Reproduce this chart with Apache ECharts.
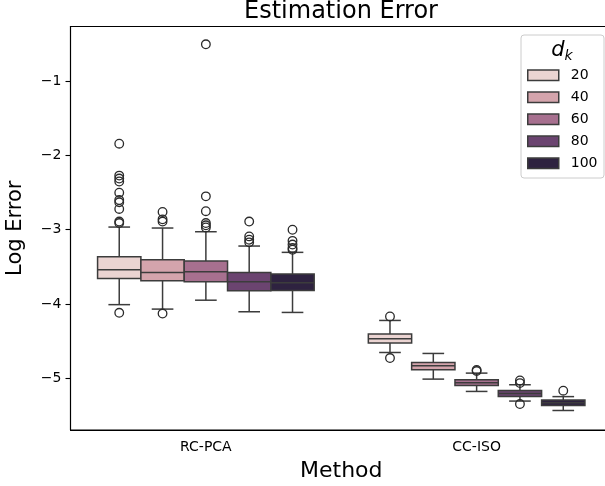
<!DOCTYPE html>
<html>
<head>
<meta charset="utf-8">
<script src="https://cdn.jsdelivr.net/npm/echarts@6/dist/echarts.min.js"></script>
<style>
  html, body { margin: 0; padding: 0; background: #fff; }
  #chart { width: 605px; height: 486px; }
</style>
</head>
<body>
<div id="chart"></div>
<script>
// Methods on the x axis and the d_k levels used as hue
const methods = ['RC-PCA', 'CC-ISO'];
const dkLevels = ['20', '40', '60', '80', '100'];
const dkColors = ['#ebd4d2', '#d4a4ac', '#a7708f', '#6b4470', '#2e2240'];
const yTicks = [-5, -4, -3, -2, -1];

// Box statistics per d_k: [method index, lower whisker, Q1, median, Q3, upper whisker]
const box20 = [[0, -4.01, -3.657, -3.54, -3.364, -2.964], [1, -4.655, -4.528, -4.47, -4.407, -4.223]];
const box40 = [[0, -4.07, -3.688, -3.576, -3.405, -2.977], [1, -5.014, -4.888, -4.834, -4.79, -4.668]];
const box60 = [[0, -3.95, -3.70, -3.567, -3.42, -3.027], [1, -5.18, -5.10, -5.063, -5.023, -4.933]];
const box80 = [[0, -4.106, -3.823, -3.70, -3.576, -3.22], [1, -5.31, -5.248, -5.208, -5.167, -5.09]];
const box100 = [[0, -4.115, -3.82, -3.715, -3.598, -3.305], [1, -5.437, -5.37, -5.333, -5.297, -5.25]];

// Outliers per d_k: [method index, value]
const out20 = [[0, -4.12], [0, -1.84], [0, -2.27], [0, -2.31], [0, -2.35], [0, -2.50], [0, -2.60],
               [0, -2.63], [0, -2.72], [0, -2.89], [0, -2.91], [1, -4.17], [1, -4.73]];
const out40 = [[0, -4.13], [0, -2.76], [0, -2.86], [0, -2.89]];
const out60 = [[0, -0.50], [0, -2.55], [0, -2.75], [0, -2.91], [0, -2.94], [0, -2.97], [1, -4.89], [1, -4.905]];
const out80 = [[0, -2.89], [0, -3.09], [0, -3.135], [0, -3.17], [1, -5.032], [1, -5.068], [1, -5.35]];
const out100 = [[0, -3.0], [0, -3.15], [0, -3.20], [0, -3.245], [0, -3.27], [1, -5.17]];

const boxes = [box20, box40, box60, box80, box100];
const outliers = [out20, out40, out60, out80, out100];

const EDGE = '#3c3c3c';
const FONT = 'DejaVu Sans';
const nHue = dkLevels.length;

// horizontal placement of hue h inside a category band (dodged, 80% of band)
function hueGeom(api, h) {
  const band = api.size([1, 0])[0];
  const w = band * 0.8 / nHue;
  return { off: (h - (nHue - 1) / 2) * w, w: w };
}

function boxRenderer(h) {
  return function (params, api) {
    const cat = api.value(0);
    const g = hueGeom(api, h);
    const cx = api.coord([cat, 0])[0] + g.off;
    const y = i => api.coord([cat, api.value(i)])[1];
    const lo = y(1), q1 = y(2), med = y(3), q3 = y(4), hi = y(5);
    const hw = g.w / 2, cap = g.w / 4;
    const line = { stroke: EDGE, lineWidth: 1.5 };
    return {
      type: 'group',
      children: [
        { type: 'line', shape: { x1: cx, y1: q3, x2: cx, y2: hi }, style: line },
        { type: 'line', shape: { x1: cx, y1: q1, x2: cx, y2: lo }, style: line },
        { type: 'line', shape: { x1: cx - cap, y1: hi, x2: cx + cap, y2: hi }, style: line },
        { type: 'line', shape: { x1: cx - cap, y1: lo, x2: cx + cap, y2: lo }, style: line },
        { type: 'rect', shape: { x: cx - hw, y: q3, width: g.w, height: q1 - q3 },
          style: { fill: dkColors[h], stroke: EDGE, lineWidth: 1.5 } },
        { type: 'line', shape: { x1: cx - hw, y1: med, x2: cx + hw, y2: med }, style: line }
      ]
    };
  };
}

function outlierRenderer(h) {
  return function (params, api) {
    const cat = api.value(0);
    const g = hueGeom(api, h);
    const p = api.coord([cat, api.value(1)]);
    return {
      type: 'circle',
      shape: { cx: p[0] + g.off, cy: p[1], r: 4.3 },
      style: { fill: 'none', stroke: '#2a2a2a', lineWidth: 1.3 }
    };
  };
}

const series = [];
dkLevels.forEach((name, h) => {
  series.push({
    name: name, type: 'custom', renderItem: boxRenderer(h),
    itemStyle: { color: dkColors[h] },
    encode: { x: 0, y: [1, 2, 3, 4, 5] },
    data: boxes[h], z: 2
  });
});
dkLevels.forEach((name, h) => {
  series.push({
    name: 'outlier ' + name, type: 'custom', renderItem: outlierRenderer(h),
    encode: { x: 0, y: 1 },
    data: outliers[h], z: 3
  });
});

const chart = echarts.init(document.getElementById('chart'), null, { renderer: 'canvas' });
chart.setOption({
  animation: false,
  backgroundColor: '#ffffff',
  textStyle: { fontFamily: FONT },
  grid: { left: 70.5, right: -7, top: 26.5, bottom: 56, containLabel: false, outerBoundsMode: 'none',
    show: true, borderColor: '#000', borderWidth: 1.1, backgroundColor: 'transparent' },
  xAxis: {
    type: 'category', data: methods, boundaryGap: true,
    name: 'Method', nameLocation: 'middle', nameGap: 30,
    nameTextStyle: { fontSize: 22, color: '#000', fontFamily: FONT },
    axisLine: { lineStyle: { color: '#000', width: 1.1 } },
    axisTick: { alignWithLabel: true, length: 5, lineStyle: { color: '#000', width: 1.1 } },
    axisLabel: { fontSize: 14, color: '#000', margin: 10, fontFamily: FONT },
    splitLine: { show: false }
  },
  yAxis: {
    type: 'value', min: -5.7, max: -0.26,
    name: 'Log Error', nameLocation: 'middle', nameGap: 44, nameRotate: 90,
    nameTextStyle: { fontSize: 21, color: '#000', fontFamily: FONT },
    axisLine: { show: true, lineStyle: { color: '#000', width: 1.1 } },
    axisTick: { show: true, length: 5, customValues: yTicks, lineStyle: { color: '#000', width: 1.1 } },
    axisLabel: { fontSize: 14, color: '#000', margin: 9, customValues: yTicks, fontFamily: FONT,
      formatter: v => (v < 0 ? '\u2212' : '') + Math.abs(v) },
    splitLine: { show: false }
  },
  legend: {
    orient: 'vertical', left: 527, top: 68.3, padding: 0,
    itemWidth: 31, itemHeight: 10.5, itemGap: 8,
    icon: 'rect',
    data: dkLevels.map((n, h) => ({ name: n, itemStyle: { color: dkColors[h], borderColor: EDGE, borderWidth: 1.5 } })),
    textStyle: { fontSize: 14, color: '#000', fontFamily: FONT, padding: [0, 0, 0, 7] },
    selectedMode: false
  },
  graphic: [
    { type: 'rect', z: 1, shape: { x: 521, y: 35, width: 83, height: 143, r: 3 },
      style: { fill: 'rgba(255,255,255,0.8)', stroke: '#cccccc', lineWidth: 1 } },
    { type: 'text', z: 5, x: 562, y: 51,
      style: { text: '{d|d}{k|k}', align: 'center', verticalAlign: 'middle',
        rich: { d: { fontSize: 21, fontStyle: 'italic', fontFamily: FONT, fill: '#000' },
                k: { fontSize: 14, fontStyle: 'italic', fontFamily: FONT, fill: '#000', padding: [10, 0, 0, 0] } } } },
    { type: 'text', z: 5, x: 341, y: 12,
      style: { text: 'Estimation Error', align: 'center', verticalAlign: 'middle',
        fontSize: 24, fontFamily: FONT, fill: '#000' } }
  ],
  series: series
});
</script>
</body>
</html>
